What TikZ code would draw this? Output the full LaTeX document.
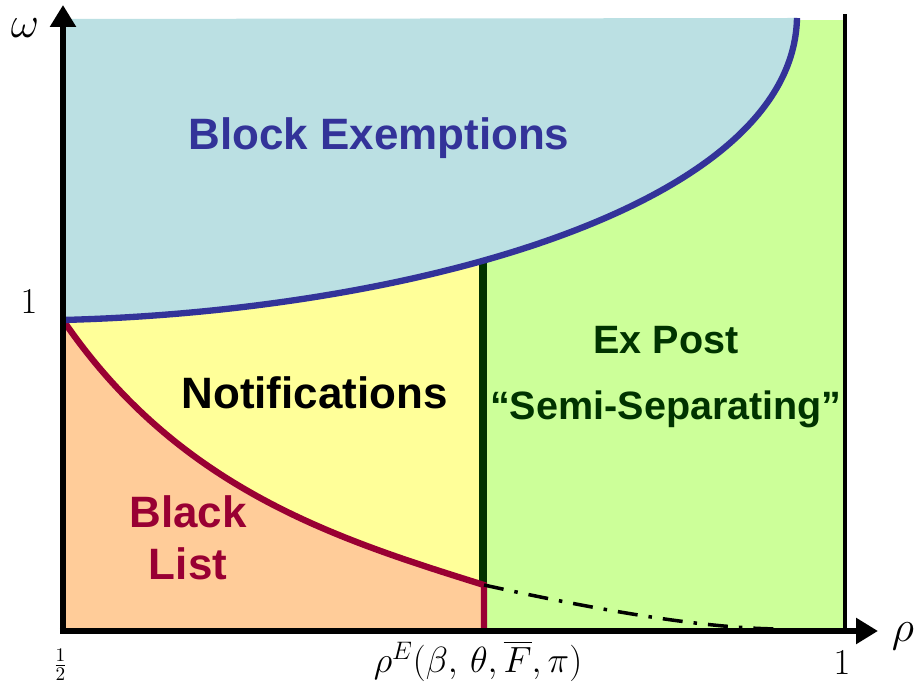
\documentclass[tikz,border=0pt]{standalone}
\usepackage{fontspec}
\setsansfont{Liberation Sans}
\usepackage{tikz}
\usetikzlibrary{arrows.meta}
\usepackage{amsmath}
\usepackage{xcolor}
\definecolor{cblue}{RGB}{187,224,227}
\definecolor{cyellow}{RGB}{255,255,153}
\definecolor{cpeach}{RGB}{255,204,153}
\definecolor{cgreen}{RGB}{204,255,153}
\definecolor{cnavy}{RGB}{51,51,153}
\definecolor{cred}{RGB}{153,0,51}
\definecolor{cdkgreen}{RGB}{0,51,0}

\begin{document}
\begin{tikzpicture}[
    region/.style={font=\fontsize{25}{30}\selectfont\sffamily\bfseries, align=center},
    tick/.style={font=\fontsize{21}{25}\selectfont},
    axislbl/.style={font=\fontsize{24}{28}\selectfont, inner sep=0pt},
    axis/.style={line width=3.2pt, -{Triangle[length=0.44cm,width=0.5cm]}},
    curve/.style={line width=3.6pt}
  ]
  \useasboundingbox (-1.26,-1.1) rectangle (17.06,12.62);

  \coordinate (O) at (0,0);
  \coordinate (split) at (0,6.22);
  \coordinate (kink) at (8.42,0.92);
  \coordinate (kfoot) at (8.42,0);
  \coordinate (gtop) at (8.4,7.41);
  \coordinate (gbot) at (8.4,0.92);
  \coordinate (btop) at (14.68,12.26);
  \coordinate (dend) at (14.4,0.04);
  \coordinate (rfoot) at (15.64,0);
  \coordinate (rtop) at (15.64,12.34);
  \coordinate (xtip) at (16.3,0);
  \coordinate (ytip) at (0,12.52);

  % regions
  \fill[cgreen] (8.4,0) rectangle (15.64,12.22);
  \fill[cyellow] (O) rectangle (8.4,7.6);
  \fill[cpeach] (O) -- (split) .. controls (2.3,2.85) and (5.44,1.85) .. (kink) -- (kfoot) -- cycle;
  \fill[cblue] (0,12.24) -- (split) .. controls (7,6.4) and (14.6,8.5) .. (btop) -- cycle;

  % boundaries
  \draw[cdkgreen, line width=4pt] (gbot) -- (gtop);
  \draw[cred, curve] (split) .. controls (2.3,2.85) and (5.44,1.85) .. (kink) -- (kfoot);
  \draw[cnavy, curve] (split) .. controls (7,6.4) and (14.6,8.5) .. (btop);
  \draw[line width=2pt, dash pattern=on 0.4cm off 0.22cm on 0.07cm off 0.22cm]
    (kink) .. controls (11,0.35) and (13,0.04) .. (dend);
  \draw[line width=2.8pt] (rfoot) -- (rtop);
  \draw[axis] (-0.06,0) -- (xtip);
  \draw[axis] (0,-0.06) -- (ytip);

  \node[axislbl] (omega) at (-0.76,12.05) {$\omega$};
  \node[axislbl] (rho) at (16.8,-0.1) {$\rho$};
  \node[tick] (one) at (-0.68,6.58) {$1$};
  \node[tick, font=\fontsize{15}{17}\selectfont] (half) at (-0.05,-0.68) {$\frac{1}{2}$};
  \node[tick] (rhoE) at (8.3,-0.6) {$\rho^E(\beta,\,\theta,\overline{F},\pi)$};
  \node[tick] (oneR) at (15.58,-0.64) {$1$};

  \node[region, text=cnavy] (blk) at (6.32,9.86) {Block Exemptions};
  \node[region] (notif) at (5.03,4.76) {Notifications};
  \node[region, text=cred, font=\fontsize{25}{29.6}\selectfont\sffamily\bfseries] (black) at (2.5,1.86) {Black\\List};
  \node[region, text=cdkgreen, font=\fontsize{22.5}{37.6}\selectfont\sffamily\bfseries] (expost) at (12.06,5.08) {Ex Post\\“Semi-Separating”};
\end{tikzpicture}
\end{document}
